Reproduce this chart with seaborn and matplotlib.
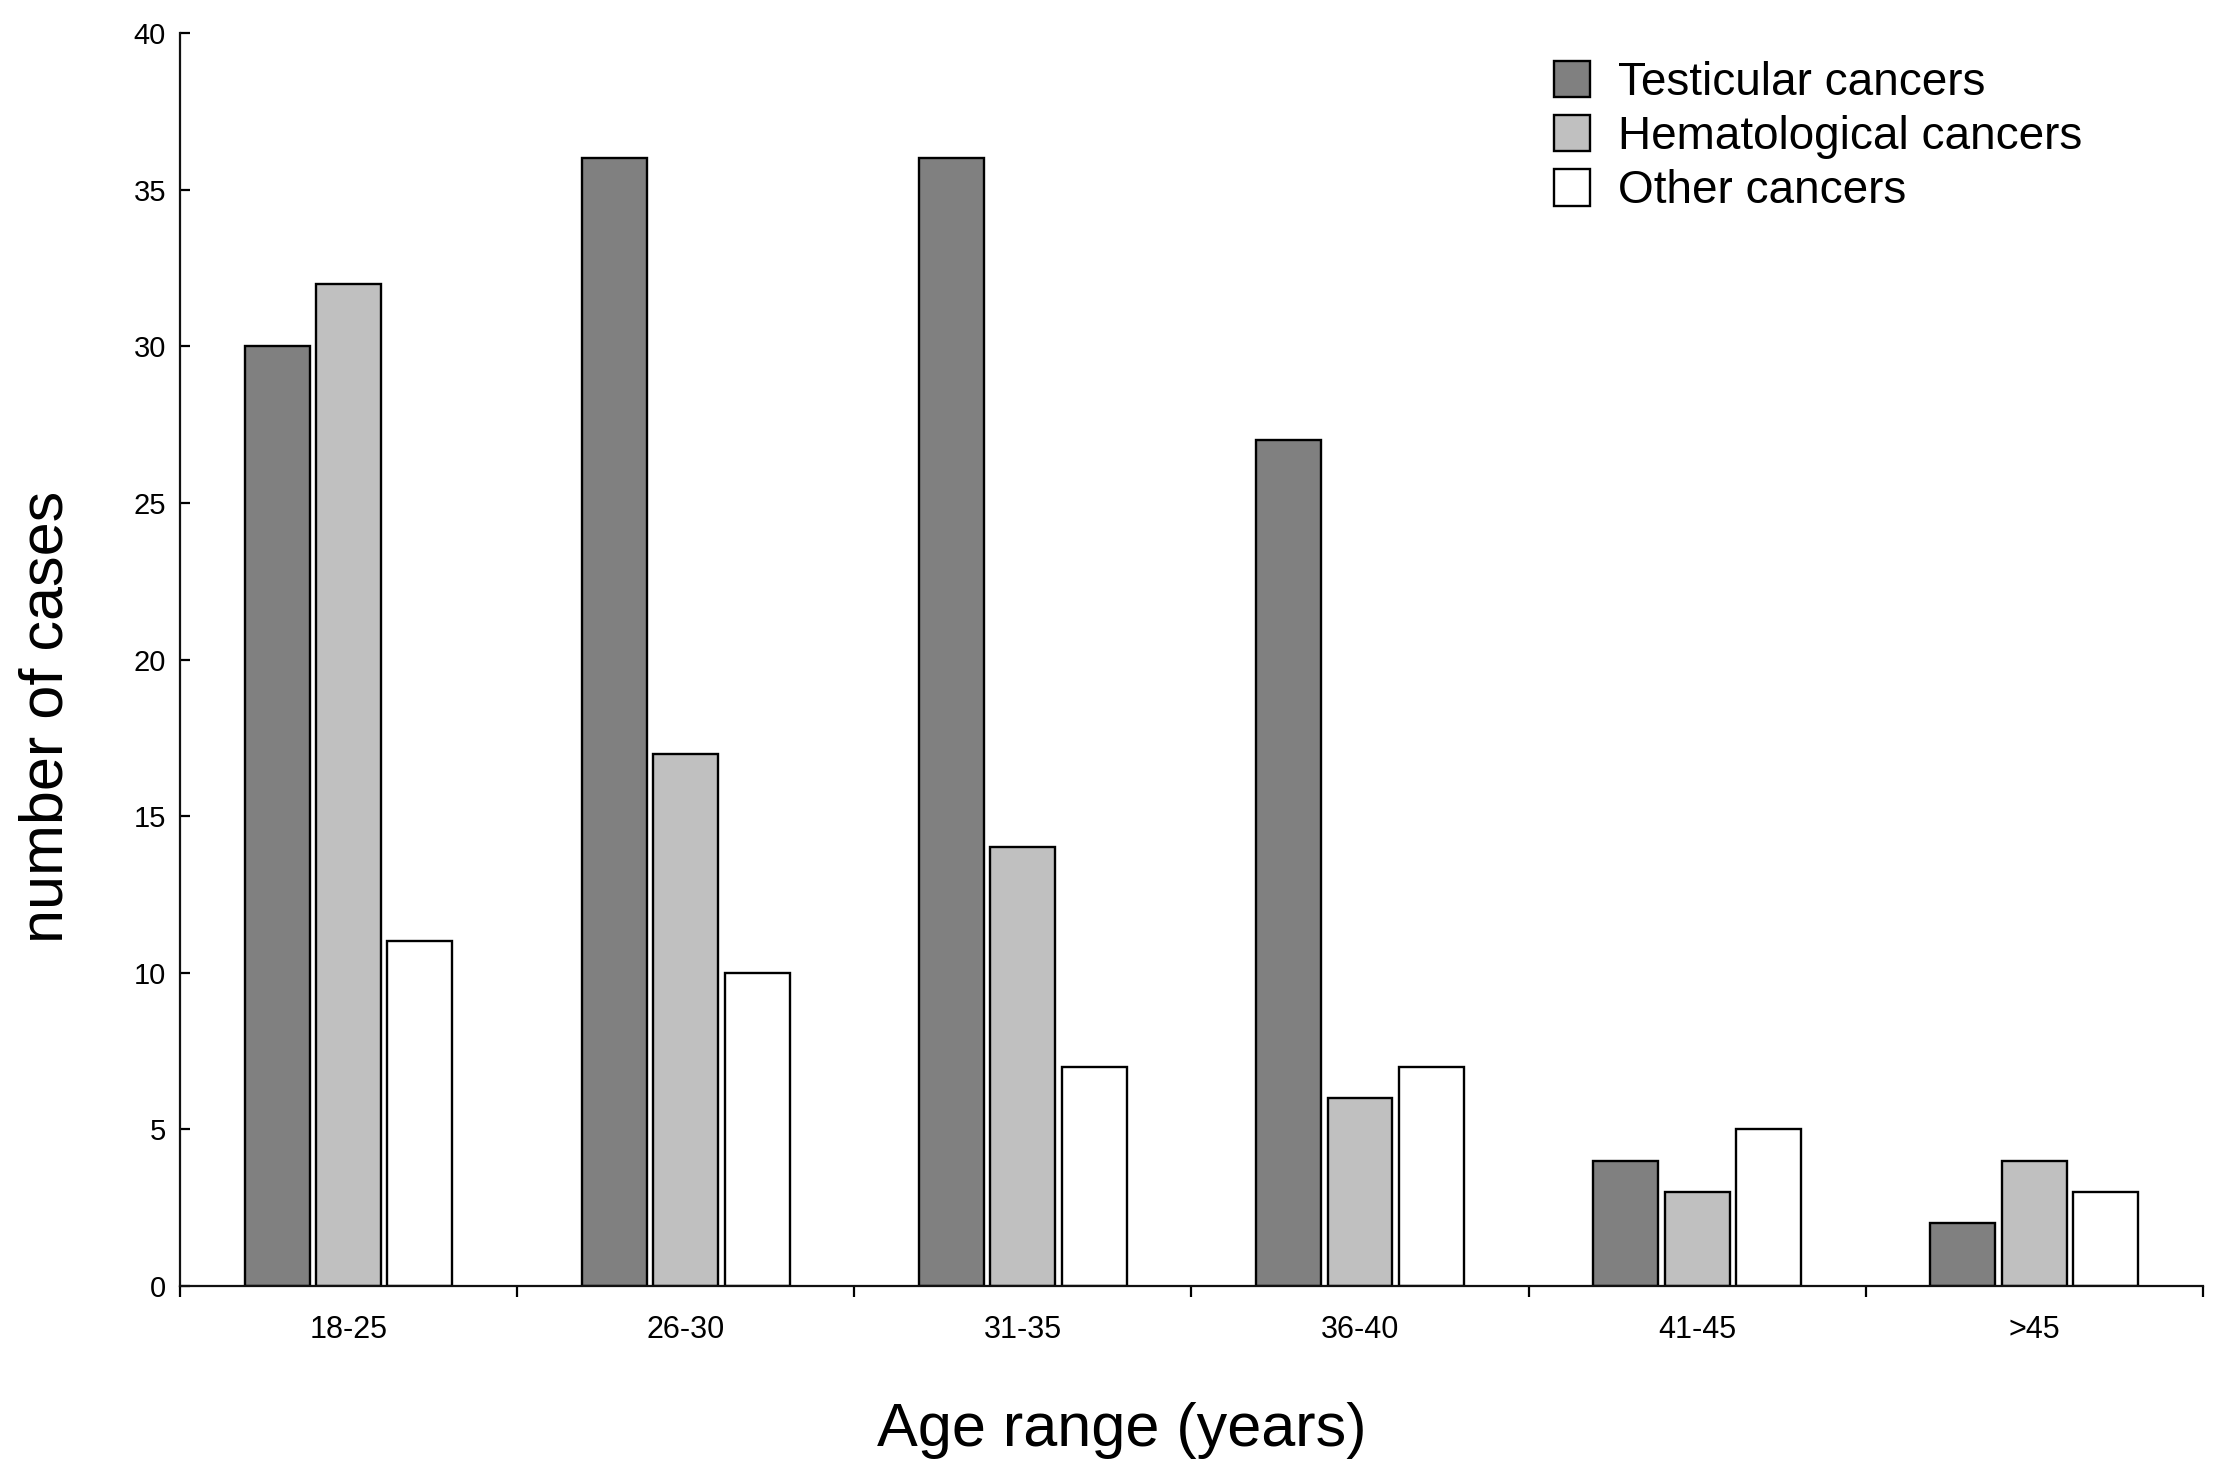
import matplotlib
matplotlib.use("Agg")
import matplotlib.pyplot as plt
import seaborn as sns
import pandas as pd
import numpy as np

# ---- data ----
age_ranges = ["18-25", "26-30", "31-35", "36-40", "41-45", ">45"]
series_names = ["Testicular cancers", "Hematological cancers", "Other cancers"]
testicular = [30, 36, 36, 27, 4, 2]
hematological = [32, 17, 14, 6, 3, 4]
other = [11, 10, 7, 7, 5, 3]
y_ticks = [0, 5, 10, 15, 20, 25, 30, 35, 40]

colors = ["#808080", "#c0c0c0", "#ffffff"]

df = pd.DataFrame({
    "age": age_ranges * 3,
    "type": [series_names[0]] * 6 + [series_names[1]] * 6 + [series_names[2]] * 6,
    "n": testicular + hematological + other,
})

sns.set_theme(style="white")
plt.rcParams["font.family"] = ["Liberation Sans", "DejaVu Sans"]
plt.rcParams["text.color"] = "black"
plt.rcParams["axes.labelcolor"] = "black"
plt.rcParams["xtick.color"] = "black"
plt.rcParams["ytick.color"] = "black"

fig = plt.figure(figsize=(22.22, 14.75), dpi=100)
ax = fig.add_axes([0.081, 0.1281, 0.9104, 0.8495])

sns.barplot(data=df, x="age", y="n", hue="type", order=age_ranges,
            hue_order=series_names, palette=colors, saturation=1,
            width=0.635, gap=0.09, edgecolor="black", linewidth=1.7,
            ax=ax, legend=True)

ax.set_xlim(-0.5, len(age_ranges) - 0.5)
ax.set_ylim(0, 40)

# spines
for s in ["top", "right"]:
    ax.spines[s].set_visible(False)
for s in ["left", "bottom"]:
    ax.spines[s].set_linewidth(1.6)
    ax.spines[s].set_color("#111111")

# y ticks (inward)
ax.set_yticks(y_ticks)
ax.set_yticklabels([str(v) for v in y_ticks], fontsize=21)
ax.tick_params(axis="y", left=True, direction="in", length=7, width=1.6, pad=10)

# x ticks: major at boundaries, labels at centers via minor ticks
ax.set_xticks(np.arange(-0.5, len(age_ranges), 1.0))
ax.set_xticklabels([])
ax.tick_params(axis="x", which="major", bottom=True, direction="out", length=8, width=1.6)
ax.set_xticks(np.arange(len(age_ranges)), minor=True)
ax.set_xticklabels(age_ranges, minor=True, fontsize=22)
ax.tick_params(axis="x", which="minor", bottom=True, length=0, pad=21)

ax.set_xlabel("Age range (years)", fontsize=44, va="baseline")
ax.xaxis.set_label_coords(0.4656, -0.1277)
ax.set_ylabel("number of cases", fontsize=44, va="baseline")
ax.yaxis.set_label_coords(-0.058, 0.4545)

leg = ax.legend(loc="upper left", bbox_to_anchor=(0.679, 0.978), frameon=False,
                fontsize=33, handlelength=0.8, handleheight=0.85,
                handletextpad=0.6, labelspacing=0.22, borderpad=0, borderaxespad=0)
for t in leg.get_texts():
    t.set_color("black")

fig.savefig("out.png", dpi=100, facecolor="white")
